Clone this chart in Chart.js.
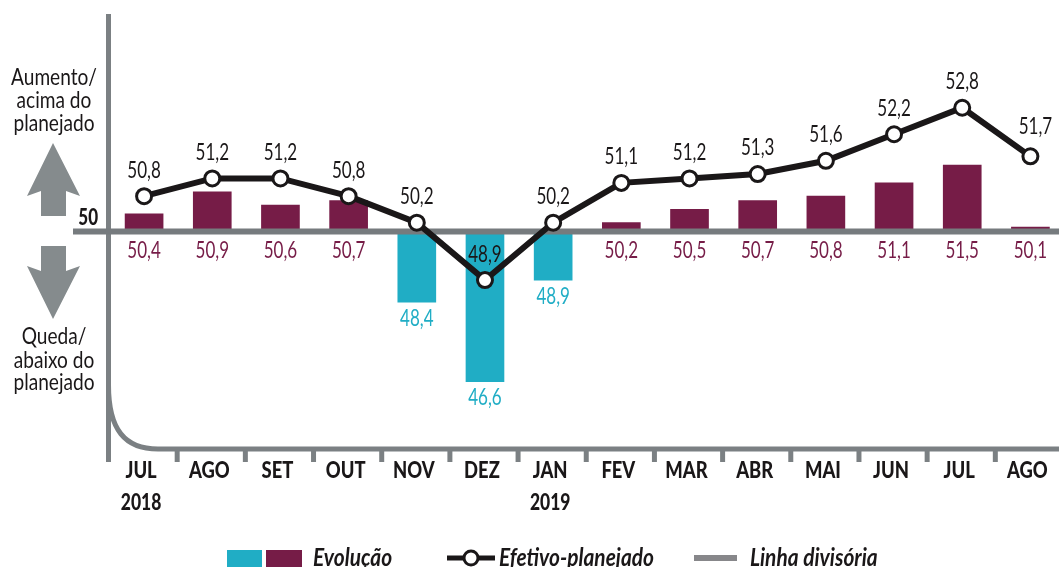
<!DOCTYPE html>
<html lang="pt-BR">
  <head>
    <meta charset="utf-8" />
    <title>Evolução e efetivo-planejado</title>
    <style>
      html, body { margin: 0; padding: 0; background: #fff; overflow: hidden; }
      body { width: 1059px; height: 567px; }
      canvas { display: block; }
    </style>
  </head>
  <body>
    <canvas id="chart" width="1075" height="567">Gráfico</canvas>

    <script src="https://cdn.jsdelivr.net/npm/chart.js@4.4.0/dist/chart.umd.min.js"></script>
    <script>
      const MONTHS = ["JUL", "AGO", "SET", "OUT", "NOV", "DEZ", "JAN", "FEV", "MAR", "ABR", "MAI", "JUN", "JUL", "AGO"];
      const YEARS = ["2018", "", "", "", "", "", "2019", "", "", "", "", "", "", ""];
      const EVOLUCAO = [50.4, 50.9, 50.6, 50.7, 48.4, 46.6, 48.9, 50.2, 50.5, 50.7, 50.8, 51.1, 51.5, 50.1];
      const EFETIVO = [50.8, 51.2, 51.2, 50.8, 50.2, 48.9, 50.2, 51.1, 51.2, 51.3, 51.6, 52.2, 52.8, 51.7];
      const DIVISORIA = 50;

      const PURPLE = "#761c47";
      const TEAL = "#20adc5";
      const BLACK = "#1a1718";
      const GREY = "#7b8083";
      const ARROW = "#858b8d";
      const FONT = 'Lato, "Liberation Sans", sans-serif';

      const fmt = (v) => v.toFixed(1).replace(".", ",");

      // no narrow face is installed, so squeeze the text horizontally
      function text(ctx, str, x, y, font, color, sx = 0.74, align = "center") {
        ctx.save();
        ctx.translate(x, y);
        ctx.scale(sx, 1);
        ctx.font = font;
        ctx.fillStyle = color;
        ctx.textAlign = align;
        ctx.textBaseline = "middle";
        ctx.fillText(str, 0, 0);
        ctx.restore();
      }

      function arrow(ctx, pts) {
        ctx.fillStyle = ARROW;
        ctx.beginPath();
        pts.forEach((p, i) => (i ? ctx.lineTo(p[0], p[1]) : ctx.moveTo(p[0], p[1])));
        ctx.closePath();
        ctx.fill();
      }

      // axes, arrows and side text, drawn behind the marks
      const frame = {
        id: "frame",
        beforeDatasetsDraw(chart) {
          const { ctx, scales } = chart;
          ctx.save();
          ctx.strokeStyle = GREY;
          ctx.lineWidth = 5;

          ctx.beginPath();
          ctx.moveTo(108.5, 14);
          ctx.lineTo(108.5, 462);
          ctx.stroke();

          // curved corner into the bottom axis
          ctx.beginPath();
          ctx.moveTo(108.5, 385);
          ctx.bezierCurveTo(108.5, 430, 125, 449, 158, 449);
          ctx.lineTo(1059, 449);
          ctx.stroke();

          const band = scales.x.getPixelForTick(1) - scales.x.getPixelForTick(0);
          for (let i = 0; i < MONTHS.length - 1; i++) {
            const x = scales.x.getPixelForTick(i) + band / 2 - 1;
            ctx.beginPath();
            ctx.moveTo(x, 449);
            ctx.lineTo(x, 462);
            ctx.stroke();
          }

          const tick = "900 23px " + FONT;
          MONTHS.forEach((m, i) => {
            const x = scales.x.getPixelForTick(i) - 3;
            text(ctx, m, x, 471, tick, BLACK, 0.8);
            if (YEARS[i]) text(ctx, YEARS[i], x, 503, tick, BLACK, 0.76);
          });

          arrow(ctx, [[53, 143], [80, 196], [66, 191], [66, 216], [41, 216], [41, 191], [27, 196]]);
          arrow(ctx, [[53, 319], [80, 266], [66, 271], [66, 246], [41, 246], [41, 271], [27, 266]]);

          const side = "23px " + FONT;
          [["Aumento/", 78], ["acima do", 101], ["planejado", 124],
           ["Queda/", 337], ["abaixo do", 361], ["planejado", 383]].forEach(([s, y]) => {
            text(ctx, s, 54, y, side, BLACK, 0.83);
          });
          ctx.restore();
        },
        // divider goes over the bars but under the line
        beforeDatasetDraw(chart, args) {
          if (args.index !== 1) return;
          const { ctx, scales } = chart;
          const y = scales.y.getPixelForValue(DIVISORIA);
          ctx.save();
          ctx.strokeStyle = "#767b7e";
          ctx.lineWidth = 6;
          ctx.beginPath();
          ctx.moveTo(73, y);
          ctx.lineTo(1059, y);
          ctx.stroke();
          text(ctx, "50", 98, y - 14, "900 23px " + FONT, BLACK, 0.74, "right");
          ctx.restore();
        },
        afterDatasetsDraw(chart) {
          const { ctx, scales } = chart;
          const labelFont = "23px " + FONT;
          ctx.save();
          EVOLUCAO.forEach((v, i) => {
            const x = scales.x.getPixelForValue(i);
            if (v >= DIVISORIA) {
              text(ctx, fmt(v), x, scales.y.getPixelForValue(DIVISORIA) + 19, labelFont, PURPLE);
            } else {
              text(ctx, fmt(v), x, scales.y.getPixelForValue(v) + 16, labelFont, TEAL);
            }
          });
          const last = EFETIVO.length - 1;
          EFETIVO.forEach((v, i) => {
            // the last label sits a bit up and to the right of its point
            const x = scales.x.getPixelForValue(i) + (i === last ? 5 : 0);
            const y = scales.y.getPixelForValue(v) - (i === last ? 30 : 26);
            text(ctx, fmt(v), x, y, labelFont, BLACK);
          });

          // legend
          const ly = 558;
          ctx.fillStyle = TEAL;
          ctx.fillRect(227, 550, 35, 17);
          ctx.fillStyle = PURPLE;
          ctx.fillRect(266, 550, 36, 17);
          const lf = "italic bold 24px " + FONT;
          text(ctx, "Evolução", 313, ly, lf, BLACK, 0.87, "left");

          ctx.strokeStyle = BLACK;
          ctx.lineWidth = 5;
          ctx.beginPath();
          ctx.moveTo(447, ly);
          ctx.lineTo(495, ly);
          ctx.stroke();
          ctx.fillStyle = "#fff";
          ctx.lineWidth = 3;
          ctx.beginPath();
          ctx.arc(471, ly, 7, 0, Math.PI * 2);
          ctx.fill();
          ctx.stroke();
          text(ctx, "Efetivo-planejado", 499, ly, lf, BLACK, 0.87, "left");

          ctx.fillStyle = "#87878a";
          ctx.fillRect(694, 555, 43, 6);
          text(ctx, "Linha divisória", 750, ly, lf, BLACK, 0.87, "left");
          ctx.restore();
        }
      };

      new Chart(document.getElementById("chart"), {
        type: "bar",
        data: {
          labels: MONTHS,
          datasets: [
            {
              type: "bar",
              label: "Evolução",
              data: EVOLUCAO,
              base: DIVISORIA,
              order: 2,
              barThickness: 38,
              backgroundColor: EVOLUCAO.map((v) => (v >= DIVISORIA ? PURPLE : TEAL))
            },
            {
              type: "line",
              label: "Efetivo-planejado",
              data: EFETIVO,
              order: 1,
              borderColor: BLACK,
              borderWidth: 6,
              tension: 0,
              pointRadius: 7.5,
              pointBorderWidth: 3,
              pointBorderColor: BLACK,
              pointBackgroundColor: "#fff",
              clip: false
            }
          ]
        },
        options: {
          responsive: false,
          animation: false,
          layout: { padding: { left: 110, right: 0, top: 9.5, bottom: 0 } },
          plugins: { legend: { display: false }, tooltip: { enabled: false } },
          scales: {
            x: {
              grid: { display: false },
              border: { display: false },
              afterFit(s) { s.height = 114.5; },
              ticks: { display: false }
            },
            y: { display: false, min: 45, max: 55 }
          }
        },
        plugins: [frame]
      });
    </script>
  </body>
</html>
